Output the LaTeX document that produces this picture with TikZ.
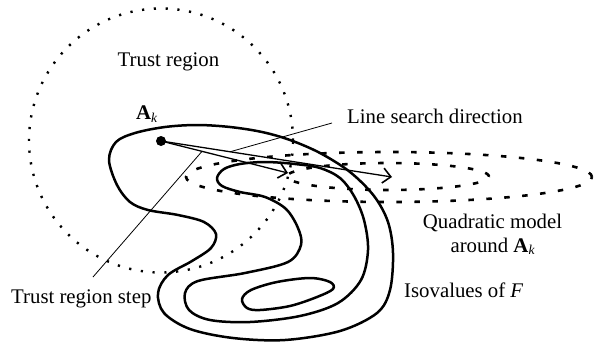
\documentclass[tikz,border=0pt]{standalone}
\usepackage{fontspec}
\setmainfont{Liberation Serif}
\usetikzlibrary{arrows.meta,calc}
\newcommand\AkSym{\textbf{A}\raisebox{-2.5pt}{\fontsize{13.5}{13.5}\selectfont\itshape k}}
\begin{document}
\begin{tikzpicture}[x=1pt,y=-1pt,
  contour/.style={line width=2.5pt, line join=round},
  trust/.style={line width=2.4pt, dash pattern=on 2.2pt off 9.6pt},
  quad/.style={line width=2.6pt, dash pattern=on 5.5pt off 12.5pt},
  vec/.style={line width=1.3pt, -{Straight Barb[length=8pt,width=15pt,line width=1.6pt]}},
  leader/.style={line width=0.8pt},
  lbl/.style={font=\fontsize{20.8}{24}\selectfont, inner sep=0pt},
]
\useasboundingbox (0,0) rectangle (594,343);

% trust region circle
\draw[trust] (161,140.5) circle [radius=132pt];

% quadratic model ellipses
\draw[quad] (389,177) ellipse [x radius=203pt, y radius=25pt];
\draw[quad] (388,176.5) ellipse [x radius=101pt, y radius=13.5pt];

% isovalue contours
\draw[contour] plot[smooth cycle, tension=0.55] coordinates {
 (109,160) (116,142) (135,133) (165,127) (197,125) (230,127) (262,132)
 (290,140) (320,153) (350,172) (374,196) (388,222) (393,253) (390,290)
 (377,313) (340,331) (285,340) (233,338) (190,329) (164,313) (158,293)
 (168,275) (192,261) (211,248) (216,234) (204,222) (178,215) (148,210)
 (130,202) (117,185)};
\draw[contour] plot[smooth cycle, tension=0.55] coordinates {
 (217,178) (224,169) (240,164) (265,162) (295,164) (320,168) (340,178)
 (354,196) (364,220) (368,250) (361,280) (338,303) (300,316) (250,322)
 (210,320) (189,310) (185,293) (198,281) (245,273) (288,262) (301,245)
 (298,228) (286,209) (265,197) (240,192) (222,186)};
\draw[contour] plot[smooth cycle, tension=0.55] coordinates {
 (242,299) (251,290) (277,282) (310,278) (330,282) (333,289) (317,297)
 (290,306) (260,310) (247,308)};

% point A_k and directions
\node[circle, fill, inner sep=0pt, minimum size=10pt] (Ak) at (161,141) {};
\coordinate (tip1) at (288,173);
\coordinate (tip2) at (392,177);
\draw[vec] (Ak.center) -- (tip1);
\draw[vec] (Ak.center) -- (tip2);

% labels
\node[lbl, anchor=base] (trlabel) at (168.5,66.7) {Trust region};
\node[lbl, anchor=base west] (aklabel) at (136,119.5) {\AkSym};
\node[lbl, anchor=base west] (lslabel) at (347,123) {Line search direction};
\node[lbl, anchor=base] (qmlabel) at (492.5,228) {Quadratic model};
\node[lbl, anchor=base] (qmlabel2) at (492.5,252) {around \AkSym};
\node[lbl, anchor=base west] (isolabel) at (404,297) {Isovalues of \textit{F}};
\node[lbl, anchor=base west] (trslabel) at (11,303) {Trust region step};

% leader lines
\coordinate (lsstart) at (332,123);
\coordinate (trsstart) at (93,277);
\draw[leader] (lsstart) -- ($(Ak.center)!0.299!(tip2)$);
\draw[leader] (trsstart) -- ($(Ak.center)!0.323!(tip1)$);
\end{tikzpicture}
\end{document}
